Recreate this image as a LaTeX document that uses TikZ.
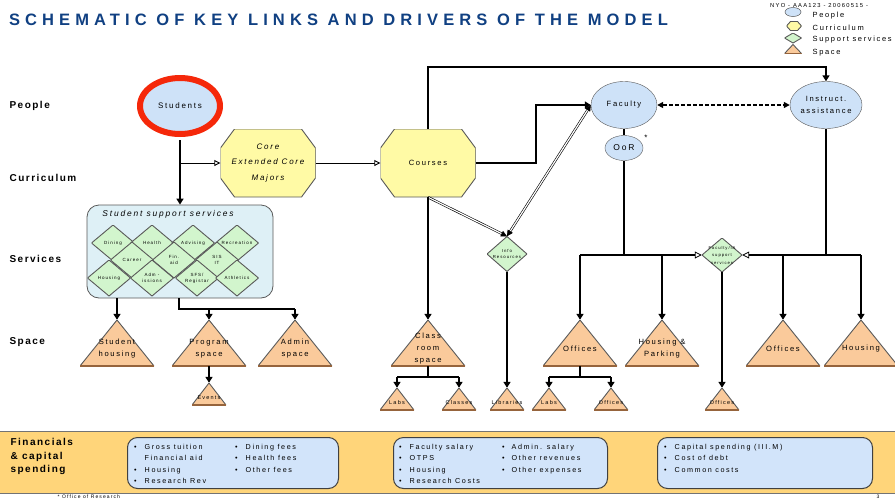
\documentclass[tikz,border=0pt]{standalone}
\usepackage{fontspec}
\setmainfont{Liberation Sans}[LetterSpace=22]
\newfontfamily\titlefont{Liberation Sans}[LetterSpace=31]
\newfontfamily\labelfont{Liberation Sans}[LetterSpace=15]
\usetikzlibrary{shapes.geometric, arrows.meta, positioning, calc}

\definecolor{titleblue}{RGB}{16,64,130}
\definecolor{peoplefill}{RGB}{206,226,248}
\definecolor{curfill}{RGB}{255,250,165}
\definecolor{servfill}{RGB}{210,245,205}
\definecolor{spacefill}{RGB}{250,202,155}
\definecolor{spacebase}{RGB}{150,100,60}
\definecolor{boxfill}{RGB}{222,240,246}
\definecolor{finfill}{RGB}{255,213,122}
\definecolor{finboxfill}{RGB}{210,228,250}
\definecolor{redring}{RGB}{245,40,10}

\newcommand\ppb{path picture bounding box}

\tikzset{
  people/.style={ellipse, draw=black!65, fill=peoplefill, inner sep=0pt, align=center},
  curric/.style 2 args={inner sep=0pt, align=center, path picture={
      \filldraw[draw=black!65, fill=curfill, line width=0.9pt]
        ([xshift=#1]\ppb.north west) -- ([xshift=-#1]\ppb.north east)
        -- ([yshift=-#2]\ppb.north east) -- ([yshift=#2]\ppb.south east)
        -- ([xshift=-#1]\ppb.south east) -- ([xshift=#1]\ppb.south west)
        -- ([yshift=#2]\ppb.south west) -- ([yshift=-#2]\ppb.north west) -- cycle;}},
  svc/.style={inner sep=0pt, align=center, minimum width=43pt, minimum height=36pt,
    font=\fontsize{4.5}{6}\selectfont, path picture={
      \filldraw[draw=black!65, fill=servfill, line width=0.9pt]
        (\ppb.west) -- (\ppb.north) -- (\ppb.east) -- (\ppb.south) -- cycle;}},
  spacetri/.style={inner sep=0pt, align=center, minimum width=74pt, minimum height=58pt,
    font=\fontsize{7.6}{12}\selectfont, path picture={
      \filldraw[draw=black!65, fill=spacefill, line width=0.9pt]
        ([yshift=#1]\ppb.south west) -- ([yshift=#1]\ppb.south east) -- (\ppb.north) -- cycle;
      \draw[spacebase, line width=1.6pt]
        ([yshift=#1]\ppb.south west) -- ([yshift=#1]\ppb.south east);}},
  spacetri/.default=12pt,
  spacesmall/.style={spacetri=8pt, minimum width=34pt, minimum height=30pt,
    font=\fontsize{5.5}{7}\selectfont},
  ssbox/.style={draw=black!65, fill=boxfill, rounded corners=12pt, line width=0.8pt, inner sep=0pt},
  finbox/.style={draw=black!75, fill=finboxfill, rounded corners=10pt, line width=1pt, inner sep=0pt},
  finlist/.style={anchor=north west, inner sep=0pt, font=\fontsize{7.2}{11.3}\selectfont},
  rowlabel/.style={anchor=west, font=\labelfont\bfseries\fontsize{10}{12}\selectfont},
  link/.style={line width=2.2pt, -{Triangle[length=6pt, width=7pt]}},
  bar/.style={line width=2.2pt},
  feed/.style={line width=0.9pt, -{Triangle[open, length=6pt, width=6pt, fill=white]}},
  busfeed/.style={line width=2.2pt, -{Triangle[open, length=7pt, width=7pt, line width=0.8pt, fill=white]}},
  dbl/.style={double=white, double distance=1.2pt, line width=0.6pt, -{Triangle[length=6pt, width=6pt]}},
  dbl2/.style={dbl, {Triangle[length=6pt, width=6pt]}-{Triangle[length=6pt, width=6pt]}},
  dashlink/.style={line width=2pt, dash pattern=on 4pt off 2pt,
    {Triangle[length=6pt, width=6pt]}-{Triangle[length=6pt, width=6pt]}}
}

\begin{document}
\begin{tikzpicture}[x=1pt, y=-1pt, every node/.style={font=\fontsize{7.6}{9.5}\selectfont}]
\useasboundingbox (0,0) rectangle (895,499);

% title and legend
\node[anchor=west, text=titleblue, font=\titlefont\bfseries\fontsize{16.5}{18}\selectfont] (title) at (5.5,20)
  {SCHEMATIC OF KEY LINKS AND DRIVERS OF THE MODEL};
\node[people, minimum width=16pt, minimum height=9pt, line width=0.5pt] (lg-people) at (793,12) {};
\node[curric={4pt}{4.5pt}, minimum width=15pt, minimum height=9pt] (lg-curric) at (794,26) {};
\node[svc, minimum width=17pt, minimum height=10pt] (lg-svc) at (793,38) {};
\node[spacetri=0pt, minimum width=17pt, minimum height=9pt] (lg-space) at (793,49) {};
\node[anchor=west, inner sep=0.5pt, font=\fontsize{5.8}{6.5}\selectfont] (docid) at (769.5,5.5) {NYO - AAA123 - 20060515 -};
\foreach \y/\txt [count=\i] in {15.5/People, 27.5/Curriculum, 40/Support services, 53/Space}
  \node[anchor=west, inner sep=2pt, font=\fontsize{7.5}{8}\selectfont] (lg-txt\i) at (810.5,\y) {\txt};

% row labels
\foreach \y/\txt in {106/People, 178/Curriculum, 259/Services, 342/Space}
  \node[rowlabel] (row-\txt) at (6,\y) {\txt};

% people
\node[people, draw=redring, line width=6pt, minimum width=80pt, minimum height=56pt,
  font=\fontsize{8}{9.5}\selectfont] (stud) at (180,106) {Students};
\node[people, minimum width=66pt, minimum height=47pt] (fac) at (624,105) {Faculty};
\node[people, minimum width=38pt, minimum height=25pt, font=\fontsize{8.5}{9.5}\selectfont] (oor) at (624,148) {OoR};
\node[font=\fontsize{8}{9}\selectfont] (oor-star) at (646,138) {*};
\node[people, minimum width=66pt, minimum height=47pt, font=\fontsize{7.6}{12}\selectfont] (instr) at (826,105) {Instruct.\\assistance};

% curriculum
\node[curric={14pt}{19pt}, minimum width=95pt, minimum height=68pt,
  font=\itshape\fontsize{8}{15.5}\selectfont] (core) at (268,163) {Core\\Extended Core\\Majors};
\node[curric={14pt}{19pt}, minimum width=95pt, minimum height=68pt] (courses) at (428,163) {Courses};

% services
\node[ssbox, minimum width=186pt, minimum height=93pt] (ssbox) at (180,251.5) {};
\node[font=\itshape\fontsize{8.4}{9}\selectfont] (ss-title) at (168,214) {Student support services};
\foreach \nm/\x/\y/\txt in {dining/113/243/Dining, health/152/243/Health, advising/193/243/Advising,
    recreation/237/243/Recreation, career/132/260/Career, finaid/174/260/{Fin.\\aid},
    sisit/217/260/{SIS\\IT}, housing/109/278/Housing, admissions/152/278/{Adm -\\issions},
    sfs/197/278/{SFS/\\Registar}, athletics/237/278/Athletics}
  \node[svc] (svc-\nm) at (\x,\y) {\txt};
\node[svc, minimum width=40pt, minimum height=35pt, font=\fontsize{4.3}{6}\selectfont] (info) at (507,254) {Info\\Resources};
\node[svc, minimum width=40pt, minimum height=34pt, font=\fontsize{4.2}{7.5}\selectfont] (fia) at (722,255) {Faculty/IA\\support\\services};

% space
\foreach \nm/\x/\txt in {shous/117/{Student\\housing}, prog/209/{Program\\space}, admin/295/{Admin\\space},
    class/428/{Class\\room\\space}, offL/580/Offices, hpark/662/{Housing \&\\Parking},
    offR/783/Offices, hous/861/Housing}
  \node[spacetri] (\nm) at (\x,349) {\txt};
\foreach \nm/\x/\txt in {labsA/397/Labs, classes/459/Classes, libr/507/Libraries,
    labsB/549/Labs, offS/611/Offices, offIA/722/Offices}
  \node[spacesmall] (\nm) at (\x,403) {\txt};
\node[spacesmall] (events) at (209,398) {Events};

% links on the left
\coordinate (split) at (stud |- core);
\coordinate (ssjoin) at (179,309);
\draw[link] ([yshift=-3pt]stud.south) -- (ssbox);
\draw[feed] (split) -- (core);
\draw[feed] (core) -- (courses);
\draw[link] (ssbox.south -| shous) -- (shous);
\draw[bar] (ssbox.south -| ssjoin) -- (ssjoin) -- (ssjoin -| admin);
\draw[link] (ssjoin -| prog) -- (prog);
\draw[link] (ssjoin -| admin) -- (admin);
\draw[link] ([yshift=12pt]prog.south) -- (events);

% links from courses
\coordinate (topline) at (0,67);
\coordinate (classbus) at ([yshift=1pt]class.south);
\draw[link] (courses.north) -- (courses.north |- topline) -| (instr.north);
\draw[link] (courses.east) -- ++(60,0) |- (fac.west);
\draw[dbl] (courses.south) -- (info.north);
\draw[dbl2] (fac.west) -- (info.north);
\draw[link] (courses) -- (class);
\draw[link] (info) -- (libr);
\draw[bar] ([yshift=12pt]class.south) -- (classbus);
\draw[bar] (classbus -| labsA) -- (classbus -| classes);
\draw[link] (classbus -| labsA) -- (labsA);
\draw[link] (classbus -| classes) -- (classes);

% faculty side
\coordinate (offbus) at ([yshift=1pt]offL.south);
\draw[dashlink] (fac) -- (instr);
\draw[bar] (fac) -- (oor);
\draw[bar] (oor) -- (oor |- fia);
\draw[busfeed] (offL.north |- fia) -- (fia.west);
\draw[link] (offL.north |- fia) -- (offL);
\draw[link] (hpark.north |- fia) -- (hpark);
\draw[bar] (instr) -- (instr |- fia);
\draw[busfeed] (hous.north |- fia) -- (fia.east);
\draw[link] (offR.north |- fia) -- (offR);
\draw[link] (hous.north |- fia) -- (hous);
\draw[link] (fia) -- (offIA);
\draw[bar] ([yshift=12pt]offL.south) -- (offbus);
\draw[bar] (offbus -| labsB) -- (offbus -| offS);
\draw[link] (offbus -| labsB) -- (labsB);
\draw[link] (offbus -| offS) -- (offS);

% financials
\node[draw=black!55, line width=1pt, fill=finfill, minimum width=897pt, minimum height=62pt,
  inner sep=0pt, anchor=north west] (fin) at (-1,431) {};
\node[anchor=north west, align=left, font=\labelfont\bfseries\fontsize{10}{13.5}\selectfont] (fin-label) at (7,435)
  {Financials\\\& capital\\spending};
\node[finbox, minimum width=211pt, minimum height=51pt, anchor=north west] (fin-rev) at (127,437) {};
\node[finbox, minimum width=214pt, minimum height=51pt, anchor=north west] (fin-cost) at (393,437) {};
\node[finbox, minimum width=215pt, minimum height=51pt, anchor=north west] (fin-cap) at (657,437) {};
\node[finlist] (rev-a) at (134,441.5) {\begin{tabular}{@{}l@{\hspace{8pt}}l@{}}
  \textbullet & Gross tuition\\ & Financial aid\\ \textbullet & Housing\\ \textbullet & Research Rev\end{tabular}};
\node[finlist] (rev-b) at (235,441.5) {\begin{tabular}{@{}l@{\hspace{8pt}}l@{}}
  \textbullet & Dining fees\\ \textbullet & Health fees\\ \textbullet & Other fees\end{tabular}};
\node[finlist] (cost-a) at (399,441.5) {\begin{tabular}{@{}l@{\hspace{8pt}}l@{}}
  \textbullet & Faculty salary\\ \textbullet & OTPS\\ \textbullet & Housing\\ \textbullet & Research Costs\end{tabular}};
\node[finlist] (cost-b) at (502,441.5) {\begin{tabular}{@{}l@{\hspace{7pt}}l@{}}
  \textbullet & Admin. salary\\ \textbullet & Other revenues\\ \textbullet & Other expenses\end{tabular}};
\node[finlist] (cap-a) at (664,441.5) {\begin{tabular}{@{}l@{\hspace{8pt}}l@{}}
  \textbullet & Capital spending (III.M)\\ \textbullet & Cost of debt\\ \textbullet & Common costs\end{tabular}};
\node[anchor=west, inner sep=0.5pt, font=\fontsize{5}{5.5}\selectfont] (fnote) at (57,496.3) {* Office of Research};
\node[inner sep=0.5pt, font=\fontsize{5}{5.5}\selectfont] (pageno) at (878,496.3) {3};
\end{tikzpicture}
\end{document}
